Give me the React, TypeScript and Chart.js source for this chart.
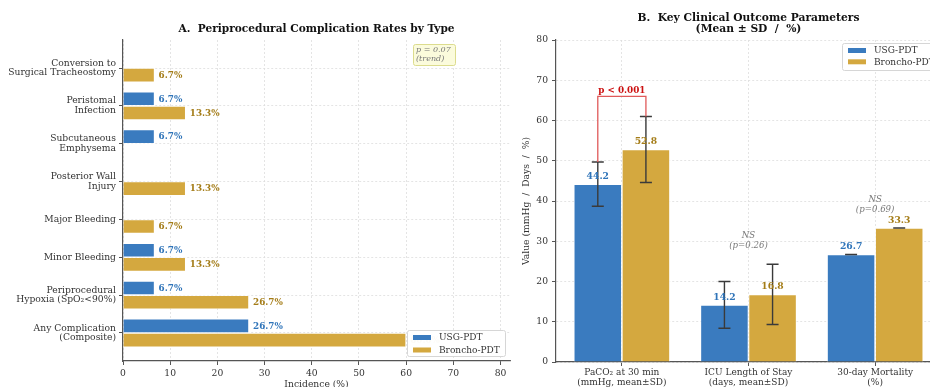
import React, { useEffect, useRef } from 'react';
import { Chart, registerables } from 'chart.js';
Chart.register(...registerables);

// ---------- Panel A data ----------
const complicationCategories: string[][] = [
  ['Conversion to', 'Surgical Tracheostomy'],
  ['Peristomal', 'Infection'],
  ['Subcutaneous', 'Emphysema'],
  ['Posterior Wall', 'Injury'],
  ['Major Bleeding'],
  ['Minor Bleeding'],
  ['Periprocedural', 'Hypoxia (SpO₂<90%)'],
  ['Any Complication', '(Composite)'],
];
const usgComplications = [0, 6.7, 6.7, 0, 0, 6.7, 6.7, 26.7];
const bronchoComplications = [6.7, 13.3, 0, 13.3, 6.7, 13.3, 26.7, 60.0];
const incidenceTicks = [0, 10, 20, 30, 40, 50, 60, 70, 80];

// ---------- Panel B data ----------
const outcomeCategories: string[][] = [
  ['PaCO₂ at 30 min', '(mmHg, mean±SD)'],
  ['ICU Length of Stay', '(days, mean±SD)'],
  ['30-day Mortality', '(%)'],
];
const usgOutcomeMeans = [44.2, 14.2, 26.7];
const usgOutcomeSD = [5.5, 5.8, 0];
const bronchoOutcomeMeans = [52.8, 16.8, 33.3];
const bronchoOutcomeSD = [8.2, 7.5, 0];
const outcomeTicks = [0, 10, 20, 30, 40, 50, 60, 70, 80];
const outcomePValues = ['p < 0.001', '(p=0.26)', '(p=0.69)'];
const outcomeSignificant = [true, false, false];

const seriesNames = ['USG-PDT', 'Broncho-PDT'];

const USG = '#3a7bbf';
const BRONCHO = '#d4a83f';
const USG_TEXT = '#2f74b9';
const BRONCHO_TEXT = '#a47c17';
const FONT = '"DejaVu Serif", serif';
const TICK_COLOR = '#333333';
const SPINE = '#555555';
const GRID = '#dedede';

function drawLegend(ctx: CanvasRenderingContext2D, left: number, top: number, w: number, h: number, gap: number) {
  ctx.save();
  ctx.fillStyle = 'rgba(255,255,255,0.97)';
  ctx.strokeStyle = '#d6d6d6';
  ctx.lineWidth = 1;
  ctx.beginPath();
  (ctx as any).roundRect ? (ctx as any).roundRect(left + 0.5, top + 0.5, w, h, 2) : ctx.rect(left + 0.5, top + 0.5, w, h);
  ctx.fill();
  ctx.stroke();
  const colors = [USG, BRONCHO];
  ctx.font = `9px ${FONT}`;
  ctx.textBaseline = 'middle';
  ctx.textAlign = 'left';
  seriesNames.forEach((n, i) => {
    const cy = top + 7.5 + i * gap;
    ctx.fillStyle = colors[i];
    ctx.fillRect(left + 6, cy - 2.5, 18, 5);
    ctx.fillStyle = TICK_COLOR;
    ctx.fillText(n, left + 32, cy + 0.5);
  });
  ctx.restore();
}

const leftPlugin = {
  id: 'leftPanel',
  afterDatasetsDraw(chart: any) {
    const ctx: CanvasRenderingContext2D = chart.ctx;
    ctx.save();
    ctx.font = `bold 8.8px ${FONT}`;
    ctx.textBaseline = 'middle';
    ctx.textAlign = 'left';
    [0, 1].forEach((d) => {
      const meta = chart.getDatasetMeta(d);
      const vals = d === 0 ? usgComplications : bronchoComplications;
      ctx.fillStyle = d === 0 ? USG_TEXT : BRONCHO_TEXT;
      meta.data.forEach((el: any, i: number) => {
        if (!vals[i]) return;
        ctx.fillText(vals[i].toFixed(1) + '%', el.x + 4, el.y + 0.5);
      });
    });
    ctx.restore();
  },
  afterDraw(chart: any) {
    const ctx: CanvasRenderingContext2D = chart.ctx;
    const a = chart.chartArea;
    const cx = (a.left + a.right) / 2;
    ctx.save();
    ctx.fillStyle = '#111';
    ctx.font = `bold 10.6px ${FONT}`;
    ctx.textAlign = 'center';
    ctx.textBaseline = 'middle';
    ctx.fillText('A.  Periprocedural Complication Rates by Type', cx, 29);
    ctx.font = `9.2px ${FONT}`;
    ctx.fillStyle = TICK_COLOR;
    ctx.fillText('Incidence (%)', cx, a.bottom + 24);
    // annotation box
    const bx = a.right - 97, by = a.top + 4, bw = 42, bh = 21;
    ctx.fillStyle = '#fbfbdc';
    ctx.strokeStyle = '#dcdc8e';
    ctx.lineWidth = 1;
    ctx.beginPath();
    (ctx as any).roundRect ? (ctx as any).roundRect(bx + 0.5, by + 0.5, bw, bh, 2) : ctx.rect(bx + 0.5, by + 0.5, bw, bh);
    ctx.fill();
    ctx.stroke();
    ctx.fillStyle = '#777';
    ctx.font = `italic 8px ${FONT}`;
    ctx.textAlign = 'left';
    ctx.fillText('p = 0.07', bx + 3, by + 6);
    ctx.fillText('(trend)', bx + 3, by + 15);
    ctx.restore();
    drawLegend(ctx, a.right - 103, a.bottom - 31, 98, 26, 12.5);
  },
};

const rightPlugin = {
  id: 'rightPanel',
  afterDatasetsDraw(chart: any) {
    const ctx: CanvasRenderingContext2D = chart.ctx;
    const ys = chart.scales.y;
    const means = [usgOutcomeMeans, bronchoOutcomeMeans];
    const sds = [usgOutcomeSD, bronchoOutcomeSD];
    const metas = [chart.getDatasetMeta(0), chart.getDatasetMeta(1)];
    ctx.save();
    // error bars
    ctx.strokeStyle = '#3a3a3a';
    ctx.lineWidth = 1.4;
    [0, 1].forEach((d) => {
      metas[d].data.forEach((el: any, i: number) => {
        const m = means[d][i], s = sds[d][i];
        const yt = ys.getPixelForValue(m + s);
        const yb = ys.getPixelForValue(m - s);
        ctx.beginPath();
        ctx.moveTo(el.x, yt); ctx.lineTo(el.x, yb);
        ctx.moveTo(el.x - 6, yt); ctx.lineTo(el.x + 6, yt);
        ctx.moveTo(el.x - 6, yb); ctx.lineTo(el.x + 6, yb);
        ctx.stroke();
      });
    });
    // value labels
    ctx.font = `bold 9.2px ${FONT}`;
    ctx.textAlign = 'center';
    ctx.textBaseline = 'bottom';
    [0, 1].forEach((d) => {
      ctx.fillStyle = d === 0 ? USG_TEXT : BRONCHO_TEXT;
      metas[d].data.forEach((el: any, i: number) => {
        ctx.fillText(means[d][i].toFixed(1), el.x, el.y - 3);
      });
    });
    // significance annotations
    outcomeCategories.forEach((_, i) => {
      const top0 = usgOutcomeMeans[i] + usgOutcomeSD[i];
      const top1 = bronchoOutcomeMeans[i] + bronchoOutcomeSD[i];
      const x0 = metas[0].data[i].x, x1 = metas[1].data[i].x;
      if (outcomeSignificant[i]) {
        const yBr = ys.getPixelForValue(Math.max(top0, top1) + 5);
        ctx.strokeStyle = '#e05a5a';
        ctx.lineWidth = 1.3;
        ctx.beginPath();
        ctx.moveTo(x0, ys.getPixelForValue(top0));
        ctx.lineTo(x0, yBr);
        ctx.lineTo(x1, yBr);
        ctx.lineTo(x1, ys.getPixelForValue(top1));
        ctx.stroke();
        ctx.fillStyle = '#cc1111';
        ctx.font = `bold 8.8px ${FONT}`;
        ctx.textBaseline = 'bottom';
        ctx.fillText(outcomePValues[i], (x0 + x1) / 2, yBr - 1.5);
      } else {
        const yp = ys.getPixelForValue(Math.max(top0, top1) + 4.5);
        ctx.fillStyle = '#777';
        ctx.font = `italic 8.6px ${FONT}`;
        ctx.textBaseline = 'middle';
        ctx.fillText('NS', (x0 + x1) / 2, yp - 10);
        ctx.fillText(outcomePValues[i], (x0 + x1) / 2, yp);
      }
    });
    ctx.restore();
  },
  afterDraw(chart: any) {
    const ctx: CanvasRenderingContext2D = chart.ctx;
    const a = chart.chartArea;
    const cx = (a.left + a.right) / 2;
    ctx.save();
    ctx.fillStyle = '#111';
    ctx.font = `bold 10.7px ${FONT}`;
    ctx.textAlign = 'center';
    ctx.textBaseline = 'middle';
    ctx.fillText('B.  Key Clinical Outcome Parameters', cx, 18);
    ctx.fillText('(Mean ± SD  /  %)', cx, 29.5);
    ctx.fillStyle = TICK_COLOR;
    ctx.font = `9.2px ${FONT}`;
    ctx.translate(7, (a.top + a.bottom) / 2);
    ctx.rotate(-Math.PI / 2);
    ctx.fillText('Value (mmHg  /  Days  /  %)', 0, 0);
    ctx.restore();
    drawLegend(ctx, a.right - 99, a.top + 3, 94, 27, 11.3);
  },
};

function leftConfig(): any {
  return {
    type: 'bar',
    data: {
      datasets: [
        {
          label: seriesNames[0],
          data: usgComplications.map((v, i) => ({ x: v, y: i })),
          backgroundColor: USG, borderColor: '#ffffff', borderWidth: 0.8,
          categoryPercentage: 0.75, barPercentage: 1,
        },
        {
          label: seriesNames[1],
          data: bronchoComplications.map((v, i) => ({ x: v, y: i })),
          backgroundColor: BRONCHO, borderColor: '#ffffff', borderWidth: 0.8,
          categoryPercentage: 0.75, barPercentage: 1,
        },
      ],
    },
    options: {
      indexAxis: 'y',
      responsive: false,
      animation: false,
      devicePixelRatio: 1,
      layout: { padding: { top: 40, right: 10, left: 0, bottom: 0 } },
      plugins: { legend: { display: false }, title: { display: false }, tooltip: { enabled: false } },
      scales: {
        x: {
          type: 'linear', position: 'bottom', min: 0, max: 82, offset: false,
          afterBuildTicks: (s: any) => { s.ticks = incidenceTicks.map((v) => ({ value: v })); },
          afterFit: (s: any) => { s.height = 26; },
          ticks: { color: TICK_COLOR, font: { family: FONT, size: 9.2 }, padding: 3, maxRotation: 0, autoSkip: false },
          grid: { offset: false, color: GRID, tickColor: SPINE, tickLength: 4, tickWidth: 1, lineWidth: 0.8 },
          border: { color: SPINE, width: 1.2, dash: [2, 2] },
        },
        y: {
          type: 'linear', position: 'left', min: -0.74, max: 7.74, reverse: true, offset: false,
          afterBuildTicks: (s: any) => { s.ticks = complicationCategories.map((_, i) => ({ value: i })); },
          afterFit: (s: any) => { s.width = 123; },
          ticks: {
            color: TICK_COLOR, font: { family: FONT, size: 9.2, lineHeight: 1.05 }, padding: 3, autoSkip: false,
            callback: (v: number) => complicationCategories[Math.round(v)] ?? '',
          },
          grid: { offset: false, color: GRID, tickColor: SPINE, tickLength: 4, tickWidth: 1, lineWidth: 0.8 },
          border: { color: SPINE, width: 1.2, dash: [2, 2] },
        },
      },
    },
    plugins: [leftPlugin],
  };
}

function rightConfig(): any {
  return {
    type: 'bar',
    data: {
      datasets: [
        {
          label: seriesNames[0],
          data: usgOutcomeMeans.map((v, i) => ({ x: i, y: v })),
          backgroundColor: USG, borderColor: '#ffffff', borderWidth: 0.8,
          categoryPercentage: 0.76, barPercentage: 1,
        },
        {
          label: seriesNames[1],
          data: bronchoOutcomeMeans.map((v, i) => ({ x: i, y: v })),
          backgroundColor: BRONCHO, borderColor: '#ffffff', borderWidth: 0.8,
          categoryPercentage: 0.76, barPercentage: 1,
        },
      ],
    },
    options: {
      indexAxis: 'x',
      responsive: false,
      animation: false,
      devicePixelRatio: 1,
      layout: { padding: { top: 40, right: 9, left: 0, bottom: 0 } },
      plugins: { legend: { display: false }, title: { display: false }, tooltip: { enabled: false } },
      scales: {
        x: {
          type: 'linear', position: 'bottom', min: -0.52, max: 2.52, offset: false,
          afterBuildTicks: (s: any) => { s.ticks = outcomeCategories.map((_, i) => ({ value: i })); },
          afterFit: (s: any) => { s.height = 25; },
          ticks: {
            color: TICK_COLOR, font: { family: FONT, size: 9, lineHeight: 1.05 }, padding: 2, maxRotation: 0, autoSkip: false,
            callback: (v: number) => outcomeCategories[Math.round(v)] ?? '',
          },
          grid: { offset: false, color: GRID, tickColor: SPINE, tickLength: 4, tickWidth: 1, lineWidth: 0.8 },
          border: { color: SPINE, width: 1.2, dash: [2, 2] },
        },
        y: {
          type: 'linear', position: 'left', min: 0, max: 80, offset: false,
          afterBuildTicks: (s: any) => { s.ticks = outcomeTicks.map((v) => ({ value: v })); },
          afterFit: (s: any) => { s.width = 36; },
          ticks: { color: TICK_COLOR, font: { family: FONT, size: 9.2 }, padding: 4, autoSkip: false },
          grid: { offset: false, color: GRID, tickColor: SPINE, tickLength: 4, tickWidth: 1, lineWidth: 0.8 },
          border: { color: SPINE, width: 1.2, dash: [2, 2] },
        },
      },
    },
    plugins: [rightPlugin],
  };
}

export default function App() {
  const leftRef = useRef<HTMLCanvasElement>(null);
  const rightRef = useRef<HTMLCanvasElement>(null);
  useEffect(() => {
    const left = new Chart(leftRef.current as HTMLCanvasElement, leftConfig());
    const right = new Chart(rightRef.current as HTMLCanvasElement, rightConfig());
    return () => { left.destroy(); right.destroy(); };
  }, []);
  return (
    <div style={{ position: 'fixed', left: 0, top: 0, width: 930, height: 387, overflow: 'hidden', background: '#ffffff' }}>
      <canvas ref={leftRef} width={520} height={387} style={{ position: 'absolute', left: 0, top: 0 }} />
      <canvas ref={rightRef} width={430} height={387} style={{ position: 'absolute', left: 520, top: 0 }} />
    </div>
  );
}
